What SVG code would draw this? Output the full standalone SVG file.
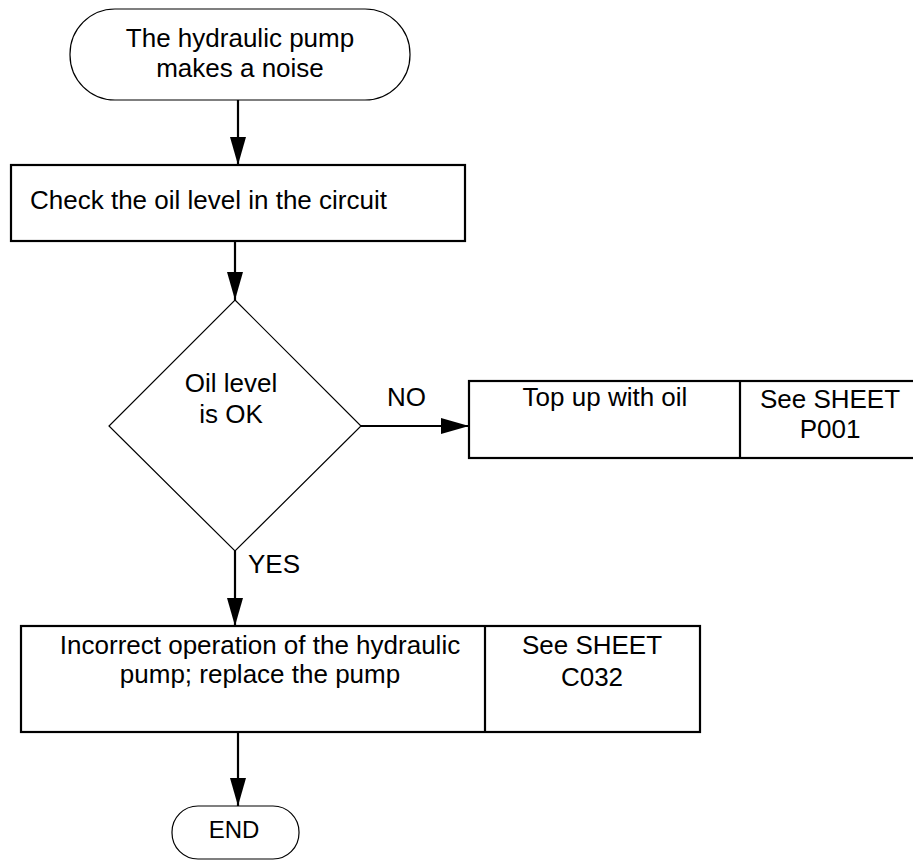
<svg xmlns="http://www.w3.org/2000/svg" width="913" height="862" viewBox="0 0 913 862">
<style>
text{font-family:"Liberation Sans",Arial,sans-serif;font-size:26px;fill:#000}
.c{text-anchor:middle}
.thin{fill:#fff;stroke:#000;stroke-width:1.2}
.box{fill:#fff;stroke:#000;stroke-width:2.2}
.conn{stroke:#000;stroke-width:2.2;fill:none}
</style>
<defs>
<marker id="ah" viewBox="0 0 28 16" refX="28" refY="8" markerWidth="28" markerHeight="16" markerUnits="userSpaceOnUse" orient="auto">
<path d="M0,0 L28,8 L0,16 Z" fill="#000"/>
</marker>
</defs>
<g id="start">
<rect class="thin" x="70" y="9" width="340" height="91" rx="45" ry="45"/>
<text class="c" x="240" y="47">The hydraulic pump</text>
<text class="c" x="240" y="77">makes a noise</text>
</g>
<g id="check">
<rect class="box" x="11" y="165" width="454" height="76"/>
<text x="30" y="209">Check the oil level in the circuit</text>
</g>
<g id="decision">
<polygon class="thin" points="235,300 361,426 235,551 109,426"/>
<text class="c" x="231" y="392">Oil level</text>
<text class="c" x="231" y="423">is OK</text>
</g>
<g id="topup">
<rect class="box" x="469" y="381" width="450" height="77"/>
<line class="box" x1="740" y1="381" x2="740" y2="458"/>
<text class="c" x="605" y="406">Top up with oil</text>
<text class="c" x="830" y="408">See SHEET</text>
<text class="c" x="830" y="438">P001</text>
</g>
<g id="replace">
<rect class="box" x="21" y="626" width="679" height="106"/>
<line class="box" x1="485" y1="626" x2="485" y2="732"/>
<text class="c" x="260" y="654">Incorrect operation of the hydraulic</text>
<text class="c" x="260" y="683">pump; replace the pump</text>
<text class="c" x="592" y="654">See SHEET</text>
<text class="c" x="592" y="686">C032</text>
</g>
<g id="end">
<rect class="thin" x="172" y="806" width="127" height="53" rx="26" ry="26"/>
<text class="c" x="234" y="838" style="font-size:24px">END</text>
</g>
<g id="connectors">
<line class="conn" x1="238" y1="100" x2="238" y2="165" marker-end="url(#ah)"/>
<line class="conn" x1="235" y1="241" x2="235" y2="300" marker-end="url(#ah)"/>
<line class="conn" x1="361" y1="426" x2="469" y2="426" marker-end="url(#ah)"/>
<line class="conn" x1="235" y1="551" x2="235" y2="626" marker-end="url(#ah)"/>
<line class="conn" x1="238" y1="732" x2="238" y2="806" marker-end="url(#ah)"/>
<text x="387" y="406">NO</text>
<text x="248" y="573">YES</text>
</g>
</svg>
